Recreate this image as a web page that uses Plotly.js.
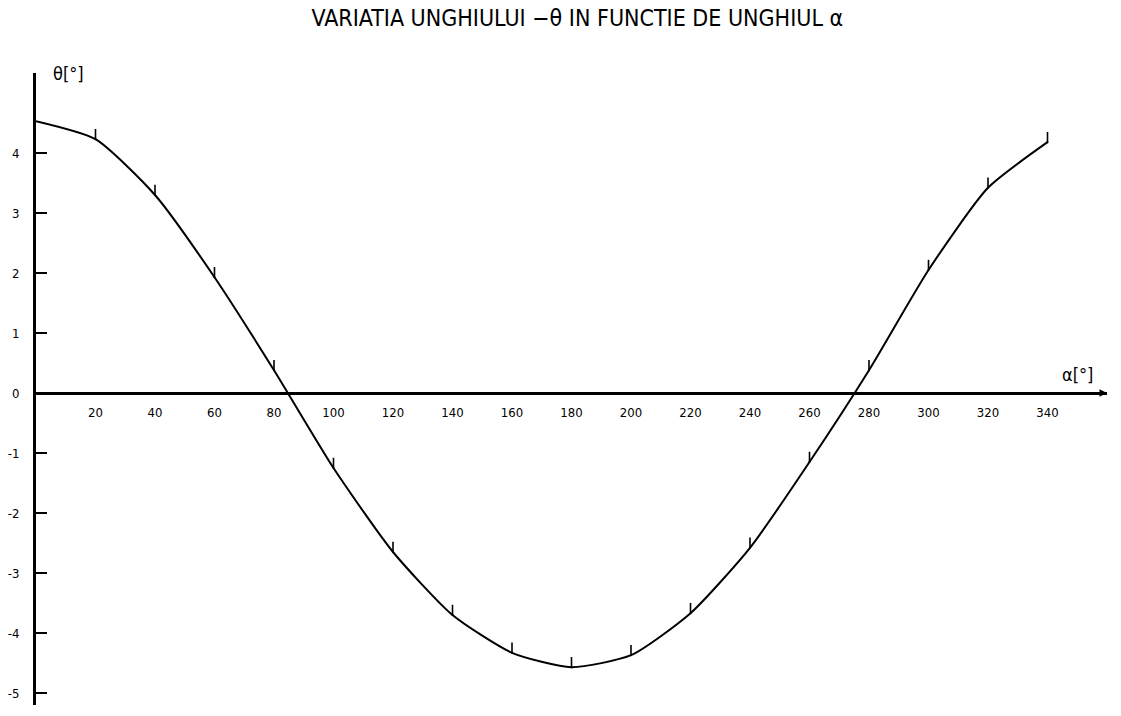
<!DOCTYPE html>
<html>
<head>
<meta charset="utf-8">
<script src="https://cdn.plot.ly/plotly-3.0.1.min.js"></script>
<style>html,body{margin:0;padding:0;background:#fff;}#chart{width:1121px;height:716px;}</style>
</head>
<body>
<div id="chart"></div>
<script>
// Data
const alphaDeg = [0, 20, 40, 60, 80, 100, 120, 140, 160, 180, 200, 220, 240, 260, 280, 300, 320, 340];
const thetaDeg = [4.53, 4.23, 3.30, 1.93, 0.38, -1.25, -2.65, -3.70, -4.33, -4.57, -4.37, -3.67, -2.58, -1.15, 0.38, 2.05, 3.42, 4.18];
const xTickVals = [20, 40, 60, 80, 100, 120, 140, 160, 180, 200, 220, 240, 260, 280, 300, 320, 340];
const yTickVals = [-5, -4, -3, -2, -1, 0, 1, 2, 3, 4];

const xRange = [0, 360];
const yRange = [-5.2, 5.333];
const FONT = "DejaVu Sans Condensed, Liberation Sans Narrow, sans-serif";

const curve = {
  x: alphaDeg, y: thetaDeg, type: 'scatter', mode: 'lines',
  line: {color: '#000', width: 2, shape: 'spline', smoothing: 0.6},
  hoverinfo: 'skip', showlegend: false
};
const stepMarks = {
  x: alphaDeg.slice(1), y: thetaDeg.slice(1), type: 'scatter', mode: 'markers',
  marker: {color: '#000', size: 2},
  error_y: {type: 'constant', symmetric: false, value: 0.17, valueminus: 0, width: 0, thickness: 1.6, color: '#000'},
  hoverinfo: 'skip', showlegend: false
};

const layout = {
  width: 1121, height: 716,
  paper_bgcolor: '#fff', plot_bgcolor: '#fff',
  margin: {l: 36, r: 14, t: 73, b: 11},
  font: {family: FONT, color: '#000', size: 13},
  title: {text: 'VARIATIA UNGHIULUI \u2212\u03b8 IN FUNCTIE DE UNGHIUL \u03b1', x: 0.515, xanchor: 'center', y: 0.975, yanchor: 'middle',
          font: {family: FONT, size: 23, color: '#000'}},
  xaxis: {
    range: xRange, anchor: 'free', position: (0 - yRange[0]) / (yRange[1] - yRange[0]),
    showline: true, linecolor: '#000', linewidth: 3, showgrid: false, zeroline: false,
    tickmode: 'array', tickvals: xTickVals, ticktext: xTickVals.map(String),
    ticks: '', ticklabelstandoff: 6, tickfont: {family: FONT, size: 13, color: '#000'}
  },
  yaxis: {
    range: yRange, domain: [0, 1],
    showline: true, linecolor: '#000', linewidth: 3, showgrid: false, zeroline: false,
    tickmode: 'array', tickvals: yTickVals, ticktext: yTickVals.map(String),
    ticks: 'inside', ticklen: 11, tickwidth: 1.5, tickcolor: '#000',
    ticklabelstandoff: 11, tickfont: {family: FONT, size: 13, color: '#000'}
  },
  annotations: [
    {xref: 'paper', yref: 'paper', x: 0.03, y: 1.0, xanchor: 'center', yanchor: 'middle', showarrow: false,
     text: '\u03b8[\u00b0]', font: {family: FONT, size: 18, color: '#000'}},
    {xref: 'x', yref: 'y', x: 350, y: 0, yshift: 18, xanchor: 'center', yanchor: 'middle', showarrow: false,
     text: '\u03b1[\u00b0]', font: {family: FONT, size: 18, color: '#000'}},
    {xref: 'x', yref: 'y', x: xRange[1], y: 0, ax: -14, ay: 0, axref: 'pixel', ayref: 'pixel', showarrow: true,
     arrowhead: 2, arrowsize: 1, arrowwidth: 1.5, arrowcolor: '#000', text: ''}
  ]
};

Plotly.newPlot('chart', [curve, stepMarks], layout, {displayModeBar: false, staticPlot: true});
</script>
</body>
</html>
